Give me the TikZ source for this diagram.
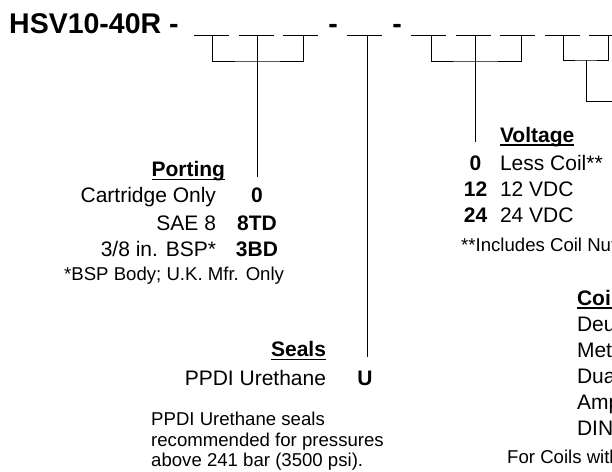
\documentclass[tikz,border=0pt]{standalone}
\usepackage{fontspec}
\setmainfont{Liberation Sans}
\usetikzlibrary{positioning}
\newlength\hdw
\newcommand{\hdul}[1]{\settowidth{\hdw}{#1}\rlap{\rule[-3.6pt]{\hdw}{1.2pt}}#1}
\tikzset{
  txt/.style={inner sep=0pt, outer sep=0pt, font=\fontsize{21}{25}\selectfont},
  lbl/.style={txt, anchor=base east},
  item/.style={txt, anchor=base west},
  code/.style={txt, anchor=base, font=\fontsize{21}{25}\selectfont\bfseries},
  hdr/.style={txt, font=\fontsize{21}{25}\selectfont\bfseries},
  note/.style={inner sep=0pt, anchor=base west, font=\fontsize{18.6}{21}\selectfont},
  title/.style={inner sep=0pt, anchor=base west, font=\fontsize{28.5}{32}\selectfont\bfseries},
  blank/.style={line width=1pt},
  conn/.style={line width=1pt},
}

\begin{document}
\begin{tikzpicture}[x=1pt,y=-1pt]
  \useasboundingbox (0,0) rectangle (612,471);
  \clip (0,0) rectangle (612,471);

  % part number with blank fields
  \node[title] (pn) at (9,33) {HSV10-40R -};
  \node[title, anchor=base] (sep1) at (333,33) {-};
  \node[title, anchor=base] (sep2) at (397,33) {-};
  \foreach \x in {194,238.5,283,347,411,456,500,545,589}
    \draw[blank] (\x,35.7) -- ++(35,0);

  \coordinate (f1) at (212,36);
  \coordinate (f2) at (257,36);
  \coordinate (f3) at (303,36);
  \coordinate (f4) at (367,36);
  \coordinate (f5) at (431,36);
  \coordinate (f6) at (475,36);
  \coordinate (f7) at (521,36);
  \coordinate (f8) at (563,36);
  \coordinate (f9) at (608,36);
  \coordinate (b1) at (257,61);
  \coordinate (b3) at (475,61);
  \coordinate (b4) at (586,60);
  \coordinate (k4) at (620,101);

  % porting
  \node[hdr, anchor=base east] (port) at (225,176.7) {\hdul{Porting}};
  \node[lbl] (pl1) at (216,202.7) {Cartridge Only};
  \node[code] (pc1) at (257,202.7) {0};
  \node[lbl] (pl2) at (216,230) {SAE 8};
  \node[code] (pc2) at (257,230) {8TD};
  \node[lbl] (pl3) at (216,256.7) {3/8 in. BSP*};
  \node[code] (pc3) at (257,256.7) {3BD};
  \node[note] (pnote) at (64,280) {*BSP Body; U.K. Mfr. Only};

  % seals
  \node[hdr, anchor=base east] (seal) at (326,356.7) {\hdul{Seals}};
  \node[lbl] (sl1) at (326,385) {PPDI Urethane};
  \node[code] (sc1) at (365,385) {U};
  \node[note] (sn1) at (151,425) {PPDI Urethane seals};
  \node[note] (sn2) at (151,446) {recommended for pressures};
  \node[note] (sn3) at (151,466.7) {above 241 bar (3500 psi).};

  % voltage
  \node[hdr, anchor=base west] (volt) at (500,142) {\hdul{Voltage}};
  \node[code] (vc1) at (475.5,170) {0};
  \node[item] (vl1) at (500,170) {Less Coil**};
  \node[code] (vc2) at (475.5,196) {12};
  \node[item] (vl2) at (500,196) {12 VDC};
  \node[code] (vc3) at (475.5,222.7) {24};
  \node[item] (vl3) at (500,222.7) {24 VDC};
  \node[note] (vnote) at (461,251.7) {**Includes Coil Nut};

  % coil termination
  \node[hdr, anchor=base west] (coil) at (577,305) {\hdul{Coil Termination}};
  \node[item] (cl1) at (577,331.7) {Deutsch};
  \node[item] (cl2) at (577,357) {Metri-Pack};
  \node[item] (cl3) at (577,383) {Dual Lead};
  \node[item] (cl4) at (577,409) {Amp Junior};
  \node[item] (cl5) at (577,435.7) {DIN};
  \node[note] (cnote) at (507,463) {For Coils with};

  % brackets
  \draw[conn] (f1) |- (b1) -| (f3);
  \draw[conn] (f2) -- (f2 |- port.base);
  \draw[conn] (f4) -- (f4 |- seal.base);
  \draw[conn] (f5) |- (b3) -| (f7);
  \draw[conn] (f6) -- (f6 |- volt.base);
  \draw[conn] (f8) |- (b4) -| (f9);
  \draw[conn] (b4) |- (k4);
\end{tikzpicture}
\end{document}
